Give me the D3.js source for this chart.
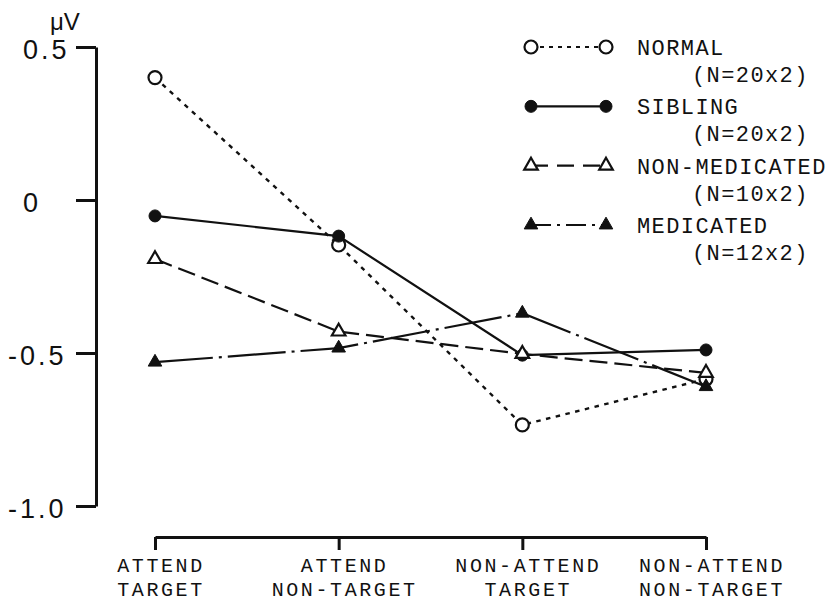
<!DOCTYPE html>
<html>
<head>
<meta charset="utf-8">
<script src="https://cdn.jsdelivr.net/npm/d3@7"></script>
<style>
  html, body { margin: 0; padding: 0; background: #fff; }
  svg { display: block; }
  .mono { font-family: "Liberation Mono", "Courier New", monospace; }
  .sans { font-family: "Liberation Sans", Arial, sans-serif; }
</style>
</head>
<body>
<svg id="chart" width="839" height="602"></svg>
<script>
// Conditions along the x axis (two-line labels)
const categories = ["AT", "ANT", "NAT", "NANT"];
const labelTop = ["ATTEND", "ATTEND", "NON-ATTEND", "NON-ATTEND"];
const labelBottom = ["TARGET", "NON-TARGET", "TARGET", "NON-TARGET"];

// Mean amplitude (μV) per group
const normal = [0.40, -0.147, -0.735, -0.585];
const sibling = [-0.052, -0.118, -0.507, -0.49];
const nonMedicated = [-0.193, -0.43, -0.503, -0.565];
const medicated = [-0.53, -0.484, -0.37, -0.61];

// Legend text
const groupNames = ["NORMAL", "SIBLING", "NON-MEDICATED", "MEDICATED"];
const groupN = ["(N=20x2)", "(N=20x2)", "(N=10x2)", "(N=12x2)"];

// Y ticks
const yTicks = [0.5, 0, -0.5, -1.0];
const yTickLabels = ["0.5", "0", "-0.5", "-1.0"];

const ink = "#111";

const series = [
  { name: groupNames[0], n: groupN[0], values: normal, marker: "circle", filled: false, dash: "4.5,5.5", width: 2.4 },
  { name: groupNames[1], n: groupN[1], values: sibling, marker: "circle", filled: true, dash: null, width: 2.2 },
  { name: groupNames[2], n: groupN[2], values: nonMedicated, marker: "triangle", filled: false, dash: "18,7", width: 2.2 },
  { name: groupNames[3], n: groupN[3], values: medicated, marker: "triangle", filled: true, dash: "58,6,3,6", width: 2.2 }
];
const legendDash = ["4,5", null, "17,9", "20,6,3,6"];

const svg = d3.select("#chart");

const x = d3.scalePoint().domain(categories).range([155, 706]).padding(0);
const y = d3.scaleLinear().domain([-1.0, 0.5]).range([506, 47]);

// Y axis
const yAxis = svg.append("g")
  .attr("transform", "translate(96,0)")
  .call(d3.axisLeft(y).tickValues(yTicks).tickSize(20).tickSizeOuter(0)
    .tickFormat((d, i) => yTickLabels[i]));
yAxis.select(".domain").attr("stroke", ink).attr("stroke-width", 3);
yAxis.selectAll(".tick line").attr("stroke", ink).attr("stroke-width", 3);
yAxis.selectAll(".tick text")
  .attr("class", "sans")
  .attr("fill", ink)
  .attr("font-size", 27)
  .attr("letter-spacing", 3)
  .attr("text-anchor", "start")
  .attr("x", d => d < 0 ? -88 : -73)
  .attr("dy", "0.42em");

svg.append("text")
  .attr("class", "sans")
  .attr("x", 50).attr("y", 30)
  .attr("font-size", 24)
  .attr("fill", ink)
  .text("μV");

// X axis
const xAxis = svg.append("g")
  .attr("transform", "translate(0,537)")
  .call(d3.axisBottom(x).tickSize(13).tickSizeOuter(0).tickFormat(""));
xAxis.select(".domain").attr("stroke", ink).attr("stroke-width", 3);
xAxis.selectAll(".tick line").attr("stroke", ink).attr("stroke-width", 3);

// Two-line condition labels, one text element per line
const catLabels = svg.append("g").attr("class", "mono")
  .attr("font-size", 20).attr("fill", ink).attr("letter-spacing", 2.6)
  .attr("text-anchor", "middle");
categories.forEach((c, i) => {
  catLabels.append("text").attr("x", x(c) + 6).attr("y", 572).text(labelTop[i]);
  catLabels.append("text").attr("x", x(c) + 6).attr("y", 596).text(labelBottom[i]);
});

// Marker drawing helper
const triPath = d3.symbol().type(d3.symbolTriangle).size(80)();
function drawMarker(g, cx, cy, s) {
  if (s.marker === "circle") {
    g.append("circle").attr("cx", cx).attr("cy", cy)
      .attr("r", s.filled ? 6 : 6.5)
      .attr("fill", s.filled ? ink : "#fff")
      .attr("stroke", ink).attr("stroke-width", s.filled ? 1 : 2.2);
  } else {
    g.append("path").attr("d", triPath)
      .attr("transform", `translate(${cx},${cy})`)
      .attr("fill", s.filled ? ink : "#fff")
      .attr("stroke", ink).attr("stroke-width", s.filled ? 1 : 2.2)
      .attr("stroke-linejoin", "miter");
  }
}

// Lines
const line = d3.line().x((d, i) => x(categories[i])).y(d => y(d));
const linesG = svg.append("g");
series.forEach(s => {
  linesG.append("path")
    .datum(s.values)
    .attr("d", line)
    .attr("fill", "none")
    .attr("stroke", ink)
    .attr("stroke-width", s.width)
    .attr("stroke-dasharray", s.dash);
});

// Markers on top
const markG = svg.append("g");
series.forEach(s => {
  s.values.forEach((v, i) => drawMarker(markG, x(categories[i]), y(v), s));
});

// Legend
const legend = svg.append("g");
const rowY = d3.scaleLinear().domain([0, 3]).range([47, 225]);
series.forEach((s, i) => {
  const cy = rowY(i);
  legend.append("line")
    .attr("x1", 531).attr("x2", 606).attr("y1", cy).attr("y2", cy)
    .attr("stroke", ink).attr("stroke-width", 2.2)
    .attr("stroke-dasharray", legendDash[i]);
  drawMarker(legend, 531, cy, s);
  drawMarker(legend, 606, cy, s);
  const t = legend.append("g").attr("class", "mono")
    .attr("font-size", 22).attr("fill", ink).attr("letter-spacing", 1.4);
  t.append("text").attr("x", 637).attr("y", cy + 8).text(s.name);
  t.append("text").attr("x", 692).attr("y", cy + 35).text(s.n);
});
</script>
</body>
</html>
